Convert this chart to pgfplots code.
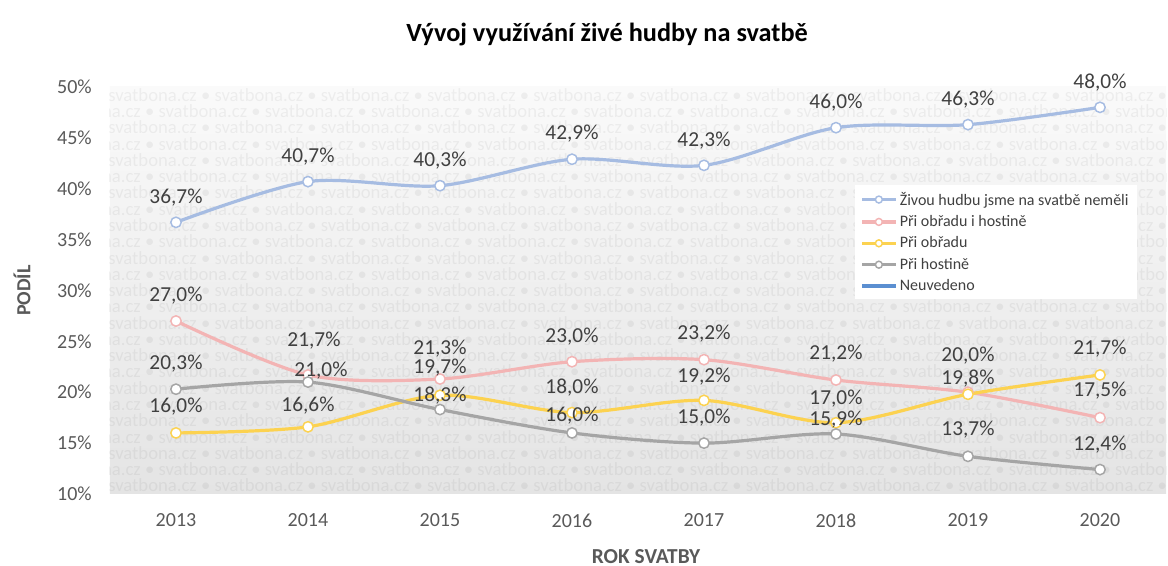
\documentclass[border=0pt]{standalone}
\usepackage{fontspec}
\setmainfont{Carlito}
\usepackage{pgfplots}
\usepackage{pgfplotstable}
\pgfplotsset{compat=1.18}

\definecolor{bluec}{RGB}{166,188,226}
\definecolor{pinkc}{RGB}{243,180,180}
\definecolor{yellowc}{RGB}{252,210,80}
\definecolor{grayc}{RGB}{165,165,165}
\definecolor{neuc}{RGB}{91,143,209}
\definecolor{txt}{RGB}{64,64,64}
\definecolor{axt}{RGB}{89,89,89}
\definecolor{bgtop}{RGB}{250,250,250}
\definecolor{bgbot}{RGB}{228,228,228}

% year, value, label distance above the point (px), label shift right (px)
\pgfplotstableread{
x y lab dx
2013 36.7 26 0
2014 40.7 26 0
2015 40.3 26 0
2016 42.9 26 0
2017 42.3 26 0
2018 46.0 26 0
2019 46.3 26 0
2020 48.0 26 0
}\nemeli
\pgfplotstableread{
x y lab dx
2013 27.0 26 0
2014 21.7 35 6
2015 21.3 31 0
2016 23.0 26 0
2017 23.2 27 0
2018 21.2 27 0
2019 20.0 37 0
2020 17.5 28 0
}\obojiho
\pgfplotstableread{
x y lab dx
2013 16.0 27 0
2014 16.6 22 0
2015 19.7 28 0
2016 18.0 26 0
2017 19.2 25 0
2018 17.0 25 0
2019 19.8 16 0
2020 21.7 27 0
}\obrad
\pgfplotstableread{
x y lab dx
2013 20.3 26 0
2014 21.0 12 13
2015 18.3 15 0
2016 16.0 18 0
2017 15.0 26 0
2018 15.9 15 0
2019 13.7 28 0
2020 12.4 26 0
}\hostina

\newcommand\wm{svatbona.cz • }
\newcommand\wmrow{\wm\wm\wm\wm\wm\wm\wm\wm\wm\wm\wm}

\begin{document}
\begin{tikzpicture}
% plot area background with watermark
\begin{scope}
\clip (0,0) rectangle (792pt,305.25pt);
\shade[top color=bgtop, bottom color=bgbot] (0,0) rectangle (792pt,305.25pt);
\foreach \i in {0,...,25}{
  \pgfmathsetmacro\xo{mod(\i,2)==0 ? -1.5 : -43.5}
  \node[anchor=west, inner sep=0, font=\fontsize{14}{14}\selectfont, text=black, opacity=0.05]
    at (\xo pt, 299.25pt-\i*12.2pt) {\wmrow};
}
\end{scope}

\begin{axis}[
    at={(0,0)}, anchor=south west,
    scale only axis,
    width=792pt, height=305.25pt,
    xmin=2012.5, xmax=2020.5,
    ymin=10, ymax=50,
    xtick={2013,...,2020},
    ytick={10,15,...,50},
    axis line style={draw=none},
    major tick length=0pt,
    /pgf/number format/assume math mode=true,
    /pgf/number format/1000 sep={},
    yticklabel={\pgfmathprintnumber{\tick}\%},
    ticklabel style={font=\fontsize{15}{15}\selectfont, text=axt},
    yticklabel style={anchor=east, inner sep=0pt, xshift=-13.5pt},
    xticklabel style={anchor=north, inner sep=0pt, yshift=-14.7pt},
    clip=false,
    legend style={at={(rel axis cs:0.7055,0.759)}, anchor=north west,
        draw=none, fill=white, font=\fontsize{12}{12}\selectfont, text=txt,
        inner xsep=4pt, inner ysep=3pt, row sep=2.2pt},
    legend cell align=left,
    legend image code/.code={
        \draw[#1, mark repeat=2, mark phase=2, mark size=2.6pt]
            plot coordinates {(0pt,0pt) (12.5pt,0pt) (25pt,0pt)};},
    every axis plot/.append style={line width=2.4pt, smooth, mark=*,
        mark size=3.9pt},
    nodes near coords={\pgfmathprintnumber[fixed,fixed zerofill,precision=1,use comma,assume math mode=true]{\pgfplotspointmeta}\%},
    visualization depends on={\thisrow{lab} \as \lab},
    visualization depends on={\thisrow{dx} \as \dx},
    every node near coord/.append style={anchor=base, inner sep=0pt,
        font=\fontsize{16}{16}\selectfont, text=txt,
        yshift={(\lab-6.7)*0.75pt}, xshift={\dx*0.75pt}},
]
\addplot[color=bluec, mark options={fill=white, draw=bluec, line width=1.1pt}]
    table[x=x, y=y] {\nemeli};
\addlegendentry{Živou hudbu jsme na svatbě neměli}
\addplot[color=pinkc, mark options={fill=white, draw=pinkc, line width=1.1pt}]
    table[x=x, y=y] {\obojiho};
\addlegendentry{Při obřadu i hostině}
\addplot[color=yellowc, mark options={fill=white, draw=yellowc, line width=1.1pt}]
    table[x=x, y=y] {\obrad};
\addlegendentry{Při obřadu}
\addplot[color=grayc, mark options={fill=white, draw=grayc, line width=1.1pt}]
    table[x=x, y=y] {\hostina};
\addlegendentry{Při hostině}
\addlegendimage{color=neuc, line width=2.4pt, mark=none}
\addlegendentry{Neuvedeno}
\end{axis}

% titles
\node[font=\bfseries\fontsize{19.7}{19.7}\selectfont, text=black] at (372.75pt,344.25pt) {Vývoj využívání živé hudby na svatbě};
\node[font=\bfseries\fontsize{16}{16}\selectfont, text=axt] at (402pt,-47.25pt) {ROK SVATBY};
\node[font=\bfseries\fontsize{15}{15}\selectfont, text=axt, rotate=90] at (-66pt,152.6pt) {PODÍL};

\pgfresetboundingbox
\path (-82.5pt,-54pt) rectangle (793.5pt,370.5pt);
\end{tikzpicture}
\end{document}
